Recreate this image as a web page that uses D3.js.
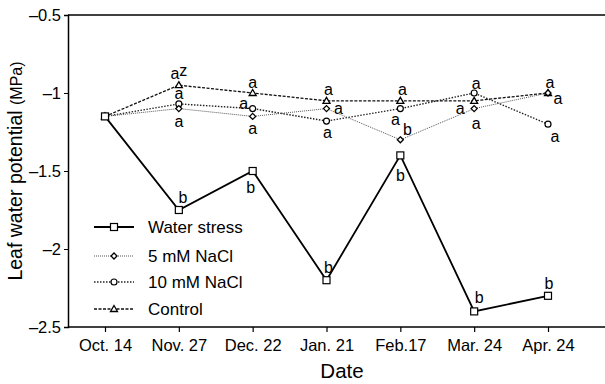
<!DOCTYPE html>
<html>
<head>
<meta charset="utf-8">
<script src="https://cdn.jsdelivr.net/npm/d3@7/dist/d3.min.js"></script>
<style>
  body { margin: 0; background: #fff; }
  text { font-family: "Liberation Sans", Arial, sans-serif; fill: #000; }
</style>
</head>
<body>
<div id="chart"></div>
<script>
// Leaf water potential chart

const dates = ['Oct. 14', 'Nov. 27', 'Dec. 22', 'Jan. 21', 'Feb.17', 'Mar. 24', 'Apr. 24'];
const yTicks = [-2.5, -2, -1.5, -1, -0.5];

const waterStress = [-1.15, -1.75, -1.5, -2.2, -1.4, -2.4, -2.3];
const nacl5 = [-1.15, -1.1, -1.15, -1.1, -1.3, -1.1, -1.0];
const nacl10 = [-1.15, -1.07, -1.1, -1.18, -1.1, -1.0, -1.2];
const control = [-1.15, -0.95, -1.0, -1.05, -1.05, -1.05, -1.0];

const seriesNames = ['Water stress', '5 mM NaCl', '10 mM NaCl', 'Control'];

// significance letters: [series index, date index, letter]
const letters = [
    [3, 1, 'a'], [2, 1, 'a'], [1, 1, 'a'],
    [3, 2, 'a'], [2, 2, 'a'], [1, 2, 'a'],
    [3, 3, 'a'], [1, 3, 'a'], [2, 3, 'a'],
    [3, 4, 'a'], [2, 4, 'a'], [1, 4, 'b'],
    [2, 5, 'a'], [3, 5, 'a'], [1, 5, 'a'],
    [1, 6, 'a'], [3, 6, 'a'], [2, 6, 'a'],
    [0, 1, 'b'], [0, 2, 'b'], [0, 3, 'b'], [0, 4, 'b'], [0, 5, 'b'], [0, 6, 'b']
];

const W = 605, H = 384;
const svg = d3.select('#chart').append('svg')
    .attr('width', W).attr('height', H);

const x = d3.scalePoint().domain(dates).range([105, 548]);
const y = d3.scaleLinear().domain([-2.5, -0.5]).range([327, 15]);

const left = 68;

// frame: top line, bottom axis line, left axis
svg.append('line').attr('x1', left).attr('x2', W).attr('y1', y(-0.5)).attr('y2', y(-0.5))
    .attr('stroke', '#000').attr('stroke-width', 1.5);

const xAxis = svg.append('g').attr('transform', `translate(0,${y(-2.5)})`)
    .call(d3.axisBottom(x).tickSize(5).tickPadding(7));
xAxis.select('.domain').remove();
xAxis.append('line').attr('x1', left).attr('x2', W).attr('stroke', '#000').attr('stroke-width', 1.5);
xAxis.selectAll('.tick line').attr('stroke-width', 1.2);
xAxis.selectAll('.tick text').attr('font-size', 16.5);

const yAxis = svg.append('g').attr('transform', `translate(${left},0)`)
    .call(d3.axisLeft(y).tickValues(yTicks).tickSize(4).tickPadding(3).tickFormat(d => String(d).replace('-', '\u2013')));
yAxis.select('.domain').attr('stroke-width', 1.5);
yAxis.selectAll('.tick text').attr('font-size', 16.5);

// axis titles
svg.append('text')
    .attr('transform', `translate(22,${(y(-0.5) + y(-2.5)) / 2}) rotate(-90)`)
    .attr('text-anchor', 'middle')
    .attr('font-size', 19.5)
    .text('Leaf water potential ')
    .append('tspan').attr('font-size', 16).text('(MPa)');

svg.append('text')
    .attr('x', 342).attr('y', 378)
    .attr('text-anchor', 'middle')
    .attr('font-size', 20.5)
    .text('Date');

// series styles
const styles = [
    { values: waterStress, dash: null, width: 1.8, color: '#000', marker: 'square' },
    { values: nacl5, dash: '1,1', width: 1, color: '#555', marker: 'diamond' },
    { values: nacl10, dash: '1.5,1.5', width: 1.4, color: '#222', marker: 'circle' },
    { values: control, dash: '3,1.5', width: 1.3, color: '#111', marker: 'triangle' }
];

const line = d3.line().x((d, i) => x(dates[i])).y(d => y(d));

function drawMarker(g, type, cx, cy) {
    if (type === 'square') {
        g.append('rect').attr('x', cx - 3.5).attr('y', cy - 3.5).attr('width', 7).attr('height', 7)
            .attr('fill', '#fff').attr('stroke', '#000').attr('stroke-width', 1.2);
    } else if (type === 'diamond') {
        g.append('path').attr('d', `M${cx},${cy - 3}L${cx + 3},${cy}L${cx},${cy + 3}L${cx - 3},${cy}Z`)
            .attr('fill', '#fff').attr('stroke', '#000').attr('stroke-width', 1.3);
    } else if (type === 'circle') {
        g.append('circle').attr('cx', cx).attr('cy', cy).attr('r', 3)
            .attr('fill', '#fff').attr('stroke', '#000').attr('stroke-width', 1.2);
    } else {
        g.append('path').attr('d', `M${cx},${cy - 3.5}L${cx + 3.5},${cy + 2.5}L${cx - 3.5},${cy + 2.5}Z`)
            .attr('fill', '#fff').attr('stroke', '#000').attr('stroke-width', 1.3);
    }
}

const plot = svg.append('g');
// draw back to front so water stress sits on top
[3, 2, 1, 0].forEach(si => {
    const s = styles[si];
    plot.append('path').datum(s.values)
        .attr('d', line)
        .attr('fill', 'none')
        .attr('stroke', s.color)
        .attr('stroke-width', s.width)
        .attr('stroke-dasharray', s.dash);
});
[3, 2, 1, 0].forEach(si => {
    const s = styles[si];
    const mg = plot.append('g');
    s.values.forEach((v, i) => drawMarker(mg, s.marker, x(dates[i]), y(v)));
});

// letter placement relative to the marker
const offsets = [
    [0, -12], [0, -10], [0, 13],
    [0, -11], [-9, -5], [0, 12],
    [2, -11], [12, 0], [1, 11],
    [2, -11], [-5, 11], [7, -10],
    [2, -10], [-14, 8], [2, 15],
    [2, -11], [10, 5], [7, 12],
    [4, -13], [-2, 16], [2, -13], [0, 20], [5, -14], [1, -12]
];

const notes = svg.append('g');
letters.forEach((l, k) => {
    const [si, di, txt] = l;
    const cx = x(dates[di]) + offsets[k][0];
    const cy = y(styles[si].values[di]) + offsets[k][1];
    const t = notes.append('text')
        .attr('x', cx).attr('y', cy)
        .attr('text-anchor', 'middle')
        .attr('dominant-baseline', 'central')
        .attr('font-size', 16)
        .text(txt);
    if (si === 3 && di === 1) t.append('tspan').attr('dy', -3).text('z');
});

// legend
const legend = svg.append('g');
const legendY = [227, 256, 282, 309];
styles.forEach((s, i) => {
    const ly = legendY[i];
    legend.append('line').attr('x1', 94).attr('x2', 134).attr('y1', ly).attr('y2', ly)
        .attr('stroke', s.color).attr('stroke-width', s.width).attr('stroke-dasharray', s.dash);
    drawMarker(legend, s.marker, 114, ly);
    legend.append('text').attr('x', 148).attr('y', ly)
        .attr('dominant-baseline', 'central')
        .attr('font-size', 17)
        .text(seriesNames[i]);
});
</script>
</body>
</html>
